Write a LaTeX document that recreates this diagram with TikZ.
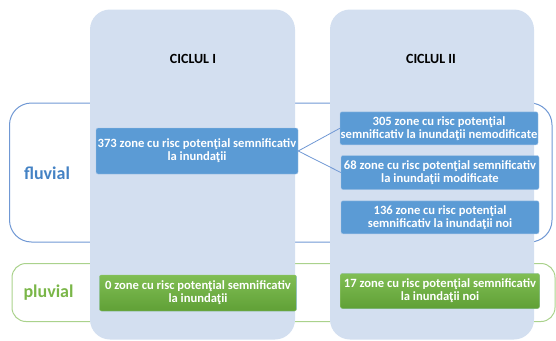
\documentclass[tikz,border=0pt]{standalone}
\usepackage{fontspec}
\setmainfont{Carlito}
\definecolor{colfill}{RGB}{211,223,240}
\definecolor{boxblue}{RGB}{91,155,213}
\definecolor{boxedge}{RGB}{165,197,232}
\definecolor{lineblue}{RGB}{112,152,212}
\definecolor{textblue}{RGB}{68,130,196}
\definecolor{linegreen}{RGB}{170,210,140}
\definecolor{textgreen}{RGB}{122,182,72}
\definecolor{greentop}{RGB}{128,190,84}
\definecolor{greenbot}{RGB}{96,160,54}
\definecolor{greenedge}{RGB}{150,200,115}

\begin{document}
\begin{tikzpicture}[x=1pt,y=-1pt,
    cycle/.style={fill=colfill, rounded corners=20pt},
    zone/.style={draw=boxedge, fill=boxblue, rounded corners=2pt, text=white,
        font=\bfseries\fontsize{12.6}{13}\selectfont, align=center,
        inner sep=0pt, minimum width=198pt, minimum height=33pt},
    rainzone/.style={zone, draw=greenedge, top color=greentop, bottom color=greenbot},
    kind/.style={font=\bfseries\fontsize{18}{22}\selectfont}]
    \useasboundingbox (0,0) rectangle (556,340);
    % outlines behind the columns
    \draw[lineblue, line width=1pt, rounded corners=22pt] (9.5,103) rectangle (552,242);
    \draw[linegreen, line width=1pt, rounded corners=14pt] (12,263.5) rectangle (555,321.5);
    % the two cycles
    \fill[cycle] (90,9.5) rectangle (295,339.5);
    \fill[cycle] (330,9.5) rectangle (534,339.5);
    \node[font=\bfseries\fontsize{14}{17}\selectfont] (c1) at (193,59) {CICLUL I};
    \node[font=\bfseries\fontsize{14}{17}\selectfont] (c2) at (431,59) {CICLUL II};
    \node[kind, text=textblue] (fluv) at (47,173) {fluvial};
    \node[kind, text=textgreen] (pluv) at (48.5,293) {pluvial};
    % fluvial zones
    \node[zone, minimum width=202pt, minimum height=46pt] (z373) at (197,151)
        {373 zone cu risc potenţial semnificativ\\la inundaţii};
    \node[zone] (z305) at (439,128.3)
        {305 zone cu risc potenţial\\semnificativ la inundaţii nemodificate};
    \node[zone, minimum height=34pt] (z68) at (440,172.5)
        {68 zone cu risc potenţial semnificativ\\la inundaţii modificate};
    \node[zone] (z136) at (440,217.3)
        {136 zone cu risc potenţial\\semnificativ la inundaţii noi};
    % pluvial zones
    \node[rainzone, minimum width=197pt, minimum height=36pt] (z0) at (198,293)
        {0 zone cu risc potenţial semnificativ\\la inundaţii};
    \node[rainzone, minimum width=199pt, minimum height=35pt] (z17) at (440,291)
        {17 zone cu risc potenţial semnificativ\\la inundaţii noi};
    \draw[lineblue, line width=0.8pt] (z373.east) -- (z305.west);
    \draw[lineblue, line width=0.8pt] (z373.east) -- (z68.west);
\end{tikzpicture}
\end{document}
